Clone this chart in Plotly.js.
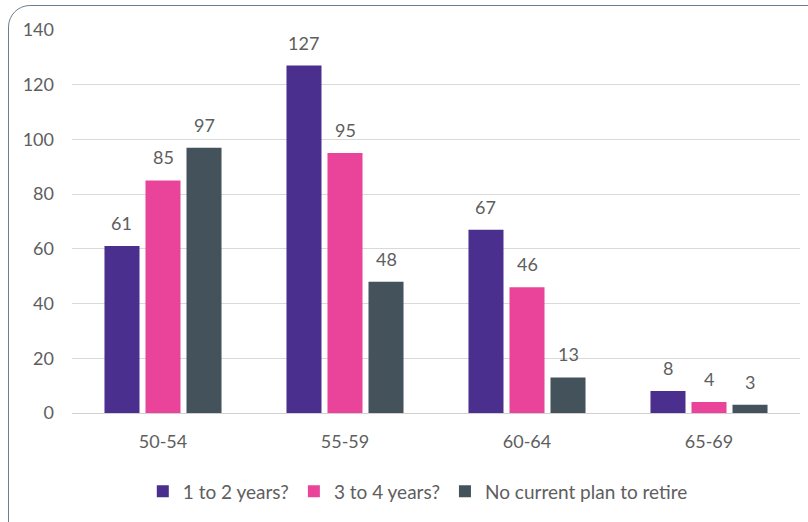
<!DOCTYPE html>
<html>
<head>
<meta charset="utf-8">
<script src="https://cdn.plot.ly/plotly-3.0.1.min.js"></script>
<style>
  html, body { margin: 0; padding: 0; background: #ffffff; }
  #wrap { position: relative; width: 808px; height: 522px; overflow: hidden; }
  #frame { position: absolute; left: 8px; top: 5px; width: 830px; height: 540px;
           border: 1.5px solid #6c7f8e; border-radius: 22px; box-sizing: border-box; }
  #chart { position: absolute; left: 0; top: 0; width: 808px; height: 522px; }
</style>
</head>
<body>
<div id="wrap">
  <div id="frame"></div>
  <div id="chart"></div>
</div>
<script>
// Data
const categories = ["50-54", "55-59", "60-64", "65-69"];
const seriesNames = ["1 to 2 years?", "3 to 4 years?", "No current plan to retire"];
const oneToTwo = [61, 127, 67, 8];
const threeToFour = [85, 95, 46, 4];
const noPlan = [97, 48, 13, 3];
const yTicks = [0, 20, 40, 60, 80, 100, 120, 140];

const colors = ["#4a2f8f", "#e9449a", "#44525c"];
const seriesValues = [oneToTwo, threeToFour, noPlan];

const FONT = "Lato, 'Open Sans', sans-serif";
const bargap = 0.324;
const slot = (1 - bargap) / seriesValues.length;

const traces = seriesValues.map((vals, i) => ({
  type: "bar",
  name: seriesNames[i],
  x: categories,
  y: vals,
  marker: { color: colors[i], line: { width: 0 } },
  hoverinfo: "skip"
}));

const annotations = [];
seriesValues.forEach((vals, i) => {
  vals.forEach((v, j) => {
    annotations.push({
      x: j + (i - (seriesValues.length - 1) / 2) * slot,
      y: v,
      xref: "x", yref: "y",
      text: String(v),
      showarrow: false,
      yanchor: "bottom",
      yshift: 10,
      font: { family: FONT, size: 18, color: "#5e5e5e" }
    });
  });
});

const layout = {
  width: 808, height: 522,
  paper_bgcolor: "rgba(0,0,0,0)",
  plot_bgcolor: "rgba(0,0,0,0)",
  margin: { l: 72, r: 8, t: 30, b: 109 },
  barmode: "group",
  bargap: bargap,
  bargroupgap: 0.146,
  font: { family: FONT, size: 18, color: "#5e5e5e" },
  xaxis: {
    type: "category",
    showgrid: false,
    showline: true,
    linecolor: "#d0d0d0",
    linewidth: 1,
    ticks: "",
    ticklabelstandoff: 12,
    tickfont: { size: 18, color: "#5e5e5e" },
    fixedrange: true
  },
  yaxis: {
    range: [0, 140],
    tickvals: yTicks,
    ticktext: yTicks.map(String),
    showgrid: true,
    gridcolor: "#d9d9d9",
    gridwidth: 1,
    zeroline: false,
    showline: false,
    ticks: "",
    ticklabelstandoff: 17,
    tickfont: { size: 18, color: "#5e5e5e" },
    fixedrange: true
  },
  showlegend: true,
  legend: {
    orientation: "h",
    x: 0.475, xanchor: "center",
    y: -0.155, yanchor: "top",
    font: { family: FONT, size: 19, color: "#5e5e5e" },
    itemwidth: 30,
    traceorder: "normal"
  },
  annotations: annotations
};

Plotly.newPlot("chart", traces, layout, { displayModeBar: false, staticPlot: true });
</script>
</body>
</html>
